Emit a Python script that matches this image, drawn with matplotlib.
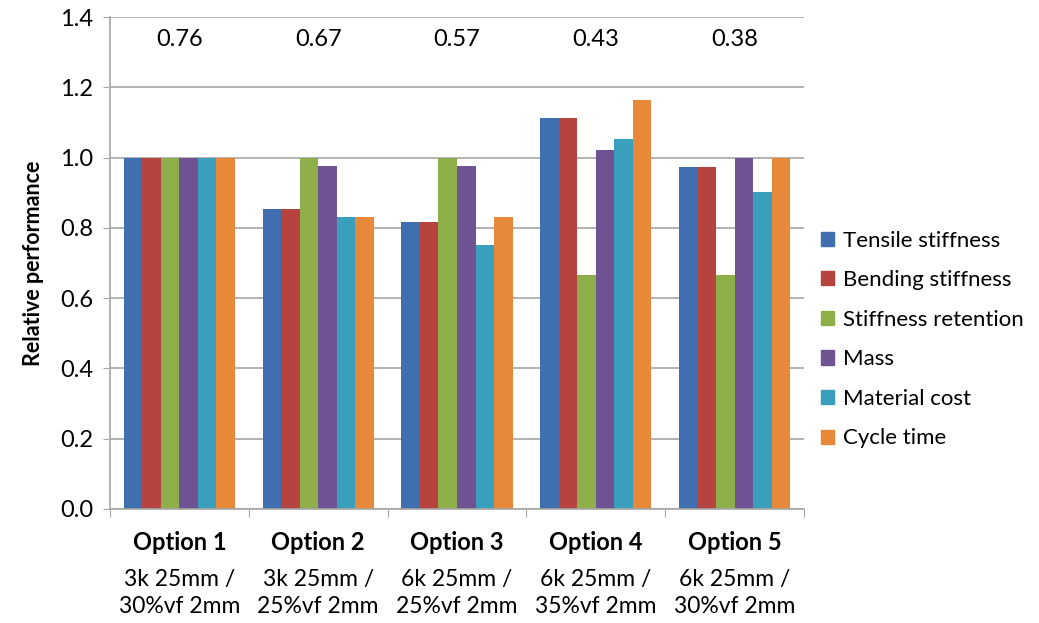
import matplotlib.pyplot as plt
import matplotlib.patches as mpatches
import matplotlib.transforms as mtransforms
import numpy as np

plt.rcParams['font.family'] = ['Lato', 'DejaVu Sans']

options = ['Option 1', 'Option 2', 'Option 3', 'Option 4', 'Option 5']
descriptions = ['3k 25mm /\n30%vf 2mm', '3k 25mm /\n25%vf 2mm', '6k 25mm /\n25%vf 2mm',
                '6k 25mm /\n35%vf 2mm', '6k 25mm /\n30%vf 2mm']
scores = ['0.76', '0.67', '0.57', '0.43', '0.38']

series = ['Tensile stiffness', 'Bending stiffness', 'Stiffness retention',
          'Mass', 'Material cost', 'Cycle time']
tensile = [1.0, 0.853, 0.818, 1.114, 0.972]
bending = [1.0, 0.853, 0.818, 1.114, 0.972]
retention = [1.0, 1.0, 1.0, 0.666, 0.666]
mass = [1.0, 0.977, 0.976, 1.022, 1.0]
cost = [1.0, 0.830, 0.750, 1.052, 0.902]
cycle = [1.0, 0.830, 0.830, 1.164, 1.0]
values = [tensile, bending, retention, mass, cost, cycle]
colors = ['#3F6FAE', '#B7433F', '#8DAE48', '#6F5393', '#3A9FBC', '#E8893A']

fig = plt.figure(figsize=(10.39, 6.23), dpi=100)
ax = fig.add_axes([0.1059, 0.183, 0.6679, 0.7897])

x = np.arange(len(options))
w = 0.8 / 6
for i, (vals, c) in enumerate(zip(values, colors)):
    ax.bar(x - 0.4 + w * (i + 0.5), vals, w, color=c, label=series[i], zorder=2)

ax.set_xlim(-0.5, len(options) - 0.5)
ax.set_ylim(0, 1.4)
ax.set_yticks(np.arange(0, 1.41, 0.2))
ax.set_yticklabels(['%.1f' % v for v in np.arange(0, 1.41, 0.2)], fontsize=17)
ax.yaxis.grid(True, color='#A6A6A6', linewidth=1.2, zorder=0)
ax.set_axisbelow(True)
ax.set_xticks(np.arange(-0.5, len(options), 1))
ax.set_xticklabels([])
ax.tick_params(axis='x', length=6, color='#A6A6A6', direction='out')
ax.tick_params(axis='y', length=5, color='#A6A6A6', direction='out', pad=7)
for s in ['top', 'right']:
    ax.spines[s].set_visible(False)
for s in ['left', 'bottom']:
    ax.spines[s].set_color('#A6A6A6')
    ax.spines[s].set_linewidth(1.2)

ax.set_ylabel('Relative performance', fontsize=15.5, fontweight='bold', labelpad=12)

trans = mtransforms.blended_transform_factory(ax.transData, fig.transFigure)
for xi, opt, desc, sc in zip(x, options, descriptions, scores):
    ax.text(xi, 1 - 542 / 623, opt, transform=trans, ha='center', va='center',
            fontsize=17, fontweight='bold')
    ax.text(xi, 1 - 593 / 623, desc, transform=trans, ha='center', va='center',
            fontsize=16.5, linespacing=1.38)
    ax.text(xi, 1.335, sc, ha='center', va='center', fontsize=17)

handles = [mpatches.Patch(color=c) for c in colors]
fig.legend(handles, series, loc='center left', bbox_to_anchor=(0.775, 0.455),
           frameon=False, fontsize=16, handlelength=0.6, handleheight=0.6,
           handletextpad=0.4, labelspacing=0.88, borderpad=0.2)

fig.savefig('out.png', dpi=100)
